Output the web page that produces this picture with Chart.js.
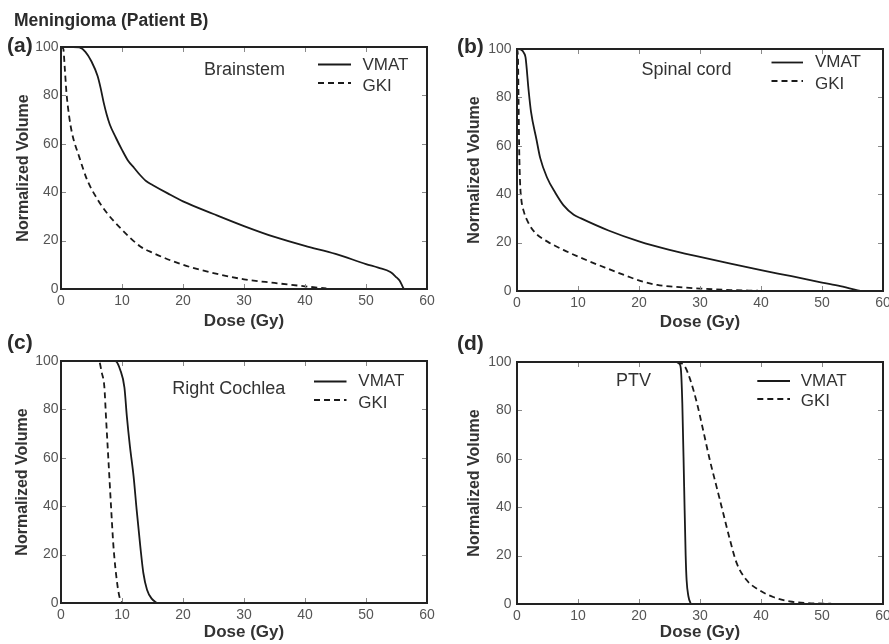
<!DOCTYPE html>
<html>
<head>
<meta charset="utf-8">
<script src="https://cdn.jsdelivr.net/npm/chart.js@4.4.0/dist/chart.umd.min.js"></script>
<style>
  body { margin: 0; background: #fff; }
  #wrap { position: relative; width: 889px; height: 644px; overflow: hidden; font-family: "Liberation Sans", Arial, sans-serif; }
  canvas { position: absolute; left: 0; top: 0; }
  .txt { position: absolute; font-weight: bold; color: #2b2b2b; white-space: nowrap; line-height: 1; }
</style>
</head>
<body>
<div id="wrap">
  <canvas id="chartA" width="889" height="644"></canvas>
  <canvas id="chartB" width="889" height="644"></canvas>
  <canvas id="chartC" width="889" height="644"></canvas>
  <canvas id="chartD" width="889" height="644"></canvas>
  <div class="txt" style="left:14px; top:12px; font-size:17.5px;">Meningioma (Patient B)</div>
  <div class="txt" style="left:7px; top:34px; font-size:21px;">(a)</div>
  <div class="txt" style="left:457px; top:35px; font-size:21px;">(b)</div>
  <div class="txt" style="left:7px; top:331px; font-size:21px;">(c)</div>
  <div class="txt" style="left:457px; top:332px; font-size:21px;">(d)</div>
</div>
<script>
// dose (Gy) / normalized volume (%)
var brainstemVmatDose = [0, 2, 3, 4, 5, 6, 6.5, 7, 7.5, 8, 9, 10, 11, 12, 13, 14, 15, 17.5, 20, 25, 30, 35, 40, 45, 50, 52, 54, 55, 55.5, 56, 56.2];
var brainstemVmatVol  = [100, 100, 99.8, 98, 94, 88, 83, 77, 72, 68, 62.5, 57.5, 53, 50, 47, 44.5, 43, 39.5, 36.2, 31, 26, 21.5, 17.8, 14.5, 10.3, 8.8, 7, 4.8, 3.5, 1, 0];
var brainstemGkiDose  = [0, 0.3, 0.4, 0.6, 0.9, 1.3, 1.8, 3, 4.3, 6, 7.5, 10, 13, 15, 20, 25, 30, 35, 40, 43.5];
var brainstemGkiVol   = [100, 99.5, 99, 92, 81, 72, 64.5, 54.5, 45, 37, 31.5, 24.5, 17.6, 15, 10, 6.6, 4, 2.5, 1.1, 0.2];

var cordVmatDose = [0, 0.8, 1.1, 1.4, 1.9, 2.3, 3.2, 3.8, 4.9, 6.3, 7.6, 9.3, 10.5, 15, 20, 25, 30, 35, 40, 45, 50, 53, 56.3];
var cordVmatVol  = [100, 99.5, 98.5, 96.5, 83, 74, 62.5, 55, 47, 40.5, 35.5, 31.5, 30, 25, 20.5, 17, 14.1, 11.3, 8.6, 6.1, 3.5, 2, 0];
var cordGkiDose  = [0, 0.15, 0.25, 0.35, 0.5, 0.7, 1.1, 1.9, 3, 5, 7.6, 10.4, 14.7, 18, 20.2, 23, 25.6, 30, 35, 39.5];
var cordGkiVol   = [100, 97, 80, 60, 45, 38, 33, 28, 24, 20.4, 17, 13.8, 9.4, 6.2, 4.2, 2.5, 1.8, 1, 0.4, 0.1];

var cochleaVmatDose = [0, 8.9, 9.7, 10.4, 10.8, 11.3, 11.9, 12.4, 13, 13.5, 14.1, 14.9, 15.7];
var cochleaVmatVol  = [100, 100, 96.4, 89, 77, 64.7, 52.3, 38.6, 23.4, 12.4, 5.5, 1.7, 0];
var cochleaGkiDose  = [0, 6.2, 6.7, 7.1, 7.4, 7.8, 8.2, 8.6, 9.2, 9.7, 10.1];
var cochleaGkiVol   = [100, 100, 95, 89.5, 75.8, 57.9, 40, 23.4, 8.3, 1.4, 0];

var ptvVmatDose = [0, 26.2, 26.6, 26.85, 27.1, 27.4, 27.65, 27.8, 28.1, 28.5];
var ptvVmatVol  = [100, 100, 99.3, 97.5, 83, 48.5, 20, 10, 3.2, 0];
var ptvGkiDose  = [0, 25, 26.7, 27.5, 28.4, 29.5, 30.5, 31.6, 32.7, 33.8, 34.9, 36, 37.6, 39.8, 42, 44.7, 47.5, 51.5];
var ptvGkiVol   = [100, 100, 99.6, 98.2, 92.7, 83, 72, 59.6, 48.6, 37.6, 26.6, 17, 10, 5.6, 2.9, 1.1, 0.4, 0.1];

var seriesNames = ['VMAT', 'GKI'];
var doseTicks = [0, 10, 20, 30, 40, 50, 60];
var volumeTicks = [0, 20, 40, 60, 80, 100];

var FONT = '"Liberation Sans", Arial, sans-serif';

function pairs(xs, ys) {
  return xs.map(function (x, i) { return { x: x, y: ys[i] }; });
}

// frame, inward tick marks, legend and structure name
var frameTicks = {
  id: 'frameTicks',
  afterDatasetsDraw: function (chart, args, opts) {
    var ctx = chart.ctx, a = chart.chartArea;
    var xs = chart.scales.x, ys = chart.scales.y;
    ctx.save();
    ctx.strokeStyle = '#8a8a8a';
    ctx.lineWidth = 1;
    ctx.beginPath();
    xs.ticks.forEach(function (t) {
      var px = Math.round(xs.getPixelForValue(t.value)) + 0.5;
      ctx.moveTo(px, a.bottom); ctx.lineTo(px, a.bottom - 5);
      ctx.moveTo(px, a.top); ctx.lineTo(px, a.top + 5);
    });
    ys.ticks.forEach(function (t) {
      var py = Math.round(ys.getPixelForValue(t.value)) + 0.5;
      ctx.moveTo(a.left, py); ctx.lineTo(a.left + 5, py);
      ctx.moveTo(a.right, py); ctx.lineTo(a.right - 5, py);
    });
    ctx.stroke();

    ctx.strokeStyle = '#222';
    ctx.lineWidth = 2;
    ctx.strokeRect(a.left, a.top, a.right - a.left, a.bottom - a.top);

    ctx.fillStyle = '#333';
    ctx.textBaseline = 'middle';
    ctx.textAlign = 'left';
    ctx.font = '18px ' + FONT;
    ctx.fillText(opts.name, opts.nameX, opts.nameY);

    var lg = opts.legend;
    ctx.font = '17px ' + FONT;
    chart.data.datasets.forEach(function (ds, i) {
      ctx.strokeStyle = '#1a1a1a';
      ctx.lineWidth = 1.8;
      ctx.setLineDash(ds.borderDash || []);
      ctx.beginPath();
      ctx.moveTo(lg.x1, lg.lineY[i]);
      ctx.lineTo(lg.x2, lg.lineY[i]);
      ctx.stroke();
      ctx.setLineDash([]);
      ctx.fillText(ds.label, lg.tx, lg.textY[i]);
    });
    ctx.restore();
  }
};

function makePanel(id, p) {
  var wy = p.L - p.yTitleX + 8;
  var hx = p.xTitleY - p.B + 8.5;
  return new Chart(document.getElementById(id), {
    type: 'line',
    data: {
      datasets: [
        { label: seriesNames[0], data: pairs(p.vmatDose, p.vmatVol), borderColor: '#1a1a1a', borderWidth: 1.8, pointRadius: 0, cubicInterpolationMode: 'monotone', fill: false },
        { label: seriesNames[1], data: pairs(p.gkiDose, p.gkiVol), borderColor: '#1a1a1a', borderWidth: 1.8, borderDash: [6, 4], pointRadius: 0, cubicInterpolationMode: 'monotone', fill: false }
      ]
    },
    options: {
      responsive: false,
      animation: false,
      layout: { padding: { left: p.L - wy, right: 889 - p.R, top: p.T, bottom: 644 - p.B - hx } },
      plugins: {
        legend: { display: false },
        tooltip: { enabled: false },
        frameTicks: { name: p.name, nameX: p.nameX, nameY: p.nameY, legend: p.legend }
      },
      scales: {
        x: {
          type: 'linear', min: 0, max: 60,
          afterBuildTicks: function (s) { s.ticks = doseTicks.map(function (v) { return { value: v }; }); },
          afterFit: function (s) { s.height = hx; s.paddingLeft = 0; s.paddingRight = 0; },
          grid: { display: false, drawTicks: false },
          border: { display: false },
          ticks: { padding: 4, color: '#555', font: { family: FONT, size: 14 } },
          title: { display: true, text: 'Dose (Gy)', color: '#333', padding: 0, font: { family: FONT, size: 17, weight: 'bold', lineHeight: 1 } }
        },
        y: {
          type: 'linear', min: 0, max: 100,
          afterBuildTicks: function (s) { s.ticks = volumeTicks.map(function (v) { return { value: v }; }); },
          afterFit: function (s) { s.width = wy; s.paddingTop = 0; s.paddingBottom = 0; },
          grid: { display: false, drawTicks: false },
          border: { display: false },
          ticks: { padding: p.yPad, color: '#555', font: { family: FONT, size: 14 } },
          title: { display: true, text: 'Normalized Volume', color: '#333', padding: 0, font: { family: FONT, size: 16, weight: 'bold', lineHeight: 1 } }
        }
      }
    },
    plugins: [frameTicks]
  });
}

makePanel('chartA', {
  L: 61, R: 427, T: 47, B: 289, yTitleX: 23.3, xTitleY: 321.5, yPad: 2.5,
  vmatDose: brainstemVmatDose, vmatVol: brainstemVmatVol, gkiDose: brainstemGkiDose, gkiVol: brainstemGkiVol,
  name: 'Brainstem', nameX: 204, nameY: 70,
  legend: { x1: 318, x2: 351, tx: 362.5, lineY: [64.5, 83], textY: [65, 86.5] }
});
makePanel('chartB', {
  L: 517, R: 883, T: 49, B: 291, yTitleX: 475, xTitleY: 322, yPad: 5.5,
  vmatDose: cordVmatDose, vmatVol: cordVmatVol, gkiDose: cordGkiDose, gkiVol: cordGkiVol,
  name: 'Spinal cord', nameX: 641.5, nameY: 70,
  legend: { x1: 771.5, x2: 803, tx: 815, lineY: [62.5, 81], textY: [62.5, 84.5] }
});
makePanel('chartC', {
  L: 61, R: 427, T: 361, B: 603, yTitleX: 22.5, xTitleY: 632.5, yPad: 2.5,
  vmatDose: cochleaVmatDose, vmatVol: cochleaVmatVol, gkiDose: cochleaGkiDose, gkiVol: cochleaGkiVol,
  name: 'Right Cochlea', nameX: 172.3, nameY: 389,
  legend: { x1: 314, x2: 346.5, tx: 358.3, lineY: [381.5, 400], textY: [381, 403] }
});
makePanel('chartD', {
  L: 517, R: 883, T: 362, B: 604, yTitleX: 475, xTitleY: 632.5, yPad: 5.5,
  vmatDose: ptvVmatDose, vmatVol: ptvVmatVol, gkiDose: ptvGkiDose, gkiVol: ptvGkiVol,
  name: 'PTV', nameX: 616, nameY: 381,
  legend: { x1: 757.3, x2: 790, tx: 800.7, lineY: [381, 399], textY: [381, 401.5] }
});
</script>
</body>
</html>
